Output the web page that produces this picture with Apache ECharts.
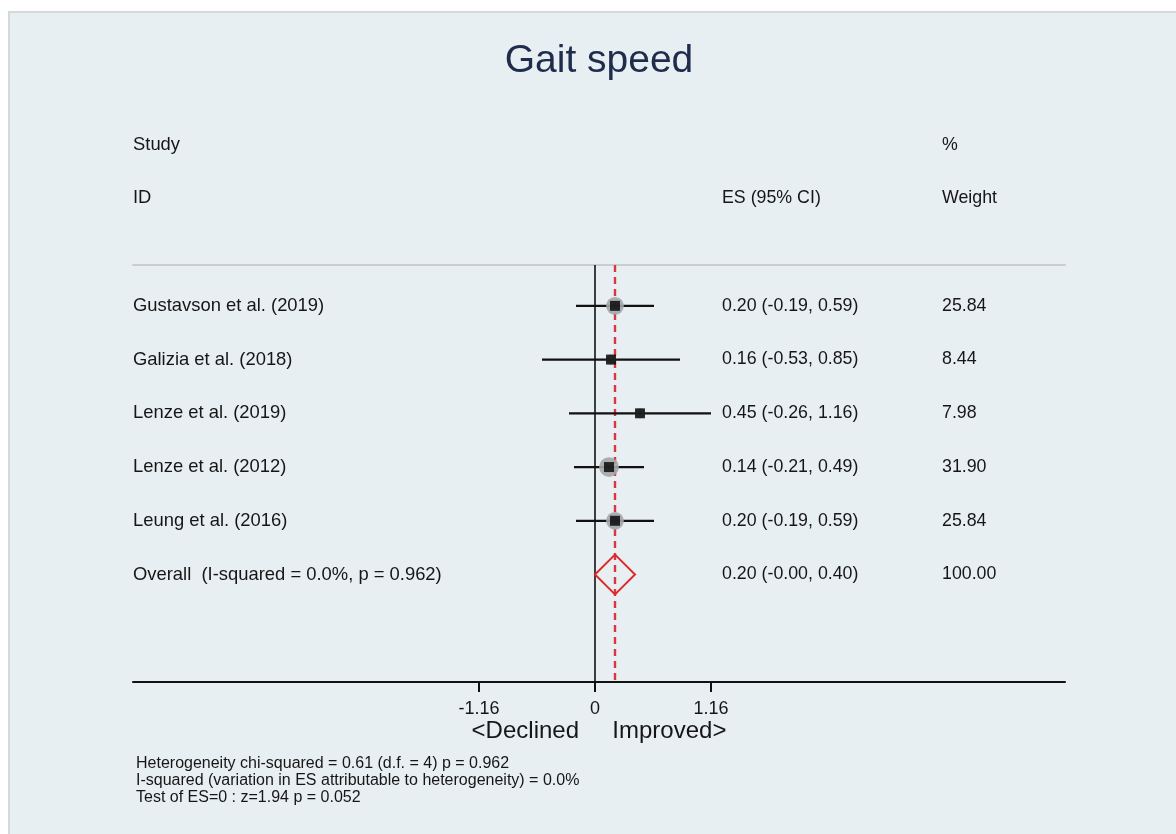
<!DOCTYPE html>
<html>
<head>
    <meta charset="UTF-8" />
    <title>Gait speed forest plot</title>
    <script src="https://cdn.jsdelivr.net/npm/echarts@6/dist/echarts.min.js"></script>
    <style>
        body { margin: 0; background: #fff; }
        #panel {
            position: absolute; left: 8px; top: 11px; right: 0; bottom: 0;
            background: #e8eff2;
            border-left: 2px solid #d5d9db;
            border-top: 2px solid #d5d9db;
        }
        #main {
            position: absolute; left: 0; top: 0;
            width: 1176px; height: 834px;
        }
    </style>
</head>
<body>
<div id="panel"></div>
<div id="main"></div>
<script>
var chartDom = document.getElementById('main');
var myChart = echarts.init(chartDom);

/* study data */
var studies = ['Gustavson et al. (2019)', 'Galizia et al. (2018)', 'Lenze et al. (2019)', 'Lenze et al. (2012)', 'Leung et al. (2016)'];
var es = [0.20, 0.16, 0.45, 0.14, 0.20];
var ciLow = [-0.19, -0.53, -0.26, -0.21, -0.19];
var ciHigh = [0.59, 0.85, 1.16, 0.49, 0.59];
var weights = [25.84, 8.44, 7.98, 31.90, 25.84];

/* pooled estimate */
var overallLabel = 'Overall  (I-squared = 0.0%, p = 0.962)';
var overallES = 0.20;
var overallLow = -0.00;
var overallHigh = 0.40;
var overallWeight = 100.00;

var xTicks = [-1.16, 0, 1.16];
var footnotes = [
    'Heterogeneity chi-squared = 0.61 (d.f. = 4) p = 0.962',
    'I-squared (variation in ES attributable to heterogeneity) = 0.0%',
    'Test of ES=0 : z=1.94 p = 0.052'
];

var FONT = '"Liberation Sans", Arial, sans-serif';
var TXT = '#161616';
var COL_LABEL = 133, COL_ES = 722, COL_W = 942;  // text column x (px)
var LABEL_FONT = '18.4px ' + FONT;   // study names run a bit wider in the original
var NUM_FONT = '17.8px ' + FONT;

function fmt(v) {
    var neg = v < 0 || Object.is(v, -0);
    return (neg ? '-' : '') + Math.abs(v).toFixed(2);
}

// one row per study plus the overall row
var rows = studies.map(function (s, i) {
    return [i, s, fmt(es[i]) + ' (' + fmt(ciLow[i]) + ', ' + fmt(ciHigh[i]) + ')', weights[i].toFixed(2)];
});
rows.push([studies.length, overallLabel,
    fmt(overallES) + ' (' + fmt(overallLow) + ', ' + fmt(overallHigh) + ')', overallWeight.toFixed(2)]);

var ciData = studies.map(function (s, i) { return [ciLow[i], ciHigh[i], i]; });
var pointData = studies.map(function (s, i) { return [es[i], i, weights[i]]; });

var option = {
    animation: false,
    backgroundColor: 'transparent',
    grid: { left: 133, right: 111, top: 265, bottom: 152 },
    xAxis: [{
        type: 'value', min: -4.62, max: 4.70,
        splitLine: { show: false },
        axisLine: { onZero: false, lineStyle: { color: '#111', width: 2 } },
        axisTick: { customValues: xTicks, length: 10, lineStyle: { color: '#111', width: 2 } },
        axisLabel: {
            customValues: xTicks, margin: 18,
            formatter: function (v) { return String(v); },
            color: TXT, fontSize: 18, fontFamily: FONT
        },
        name: '<Declined     Improved>',
        nameLocation: 'middle', nameGap: 35,
        nameTextStyle: { color: TXT, fontSize: 24, fontFamily: FONT }
    }, {
        type: 'value', min: -4.62, max: 4.70, position: 'top',
        splitLine: { show: false },
        axisLine: { onZero: false, lineStyle: { color: '#c9ced1', width: 2 } },
        axisTick: { show: false }, axisLabel: { show: false }
    }],
    yAxis: { type: 'value', inverse: true, min: -0.76, max: 7.0, show: false },
    series: [
        {
            // confidence intervals
            type: 'custom',
            renderItem: function (params, api) {
                var a = api.coord([api.value(0), api.value(2)]);
                var b = api.coord([api.value(1), api.value(2)]);
                return { type: 'line', shape: { x1: a[0], y1: a[1], x2: b[0], y2: b[1] },
                    style: { stroke: '#111', lineWidth: 2.2 } };
            },
            data: ciData,
            markLine: {
                z: 1,
                silent: true, symbol: 'none', label: { show: false },
                data: [
                    { xAxis: 0, lineStyle: { color: '#111', width: 1.6, type: 'solid' } },
                    { xAxis: overallES, lineStyle: { color: '#dc3440', width: 2.4, type: [7, 5] } }
                ]
            },
            z: 2
        },
        {
            // weight circles
            type: 'scatter',
            symbol: 'circle',
            symbolSize: function (v) { return Math.sqrt(v[2]) * 3.5; },
            itemStyle: { color: '#a3a6a8', opacity: 0.9 },
            data: pointData,
            z: 3
        },
        {
            // point estimates
            type: 'scatter',
            symbol: 'rect', symbolSize: 10,
            itemStyle: { color: '#000' },
            data: pointData,
            z: 4
        },
        {
            // pooled diamond
            type: 'custom',
            renderItem: function (params, api) {
                var y = api.value(3);
                var pts = [
                    api.coord([api.value(0), y]),
                    api.coord([api.value(1), y - 0.37]),
                    api.coord([api.value(2), y]),
                    api.coord([api.value(1), y + 0.37])
                ];
                return { type: 'polygon', shape: { points: pts },
                    style: { fill: 'none', stroke: '#dc2a2a', lineWidth: 2 } };
            },
            data: [[overallLow, overallES, overallHigh, studies.length]],
            z: 5
        },
        {
            // text columns
            type: 'custom',
            clip: false,
            renderItem: function (params, api) {
                var y = api.coord([0, api.value(0)])[1];
                var row = rows[params.dataIndex];
                var st = function (x, t, f) {
                    return { type: 'text', x: x, y: y,
                        style: { text: t, fill: TXT, font: f, textVerticalAlign: 'middle' } };
                };
                return { type: 'group', children: [
                    st(COL_LABEL, row[1], LABEL_FONT), st(COL_ES, row[2], NUM_FONT), st(COL_W, row[3], NUM_FONT)] };
            },
            data: rows.map(function (r) { return [r[0]]; }),
            z: 6
        }
    ],
    graphic: [
        { type: 'text', x: 599, y: 61, style: { text: 'Gait speed', fill: '#1f2c4c', font: '39px ' + FONT, textAlign: 'center', textVerticalAlign: 'middle' } },
        { type: 'text', x: COL_LABEL, y: 145, style: { text: 'Study', fill: TXT, font: LABEL_FONT, textVerticalAlign: 'middle' } },
        { type: 'text', x: COL_LABEL, y: 198, style: { text: 'ID', fill: TXT, font: LABEL_FONT, textVerticalAlign: 'middle' } },
        { type: 'text', x: COL_ES, y: 198, style: { text: 'ES (95% CI)', fill: TXT, font: NUM_FONT, textVerticalAlign: 'middle' } },
        { type: 'text', x: COL_W, y: 145, style: { text: '%', fill: TXT, font: NUM_FONT, textVerticalAlign: 'middle' } },
        { type: 'text', x: COL_W, y: 198, style: { text: 'Weight', fill: TXT, font: NUM_FONT, textVerticalAlign: 'middle' } },
        { type: 'text', x: 136, y: 755, style: { text: footnotes.join('\n'), fill: TXT, font: '16px ' + FONT, lineHeight: 17 } }
    ]
};

myChart.setOption(option);
</script>
</body>
</html>
